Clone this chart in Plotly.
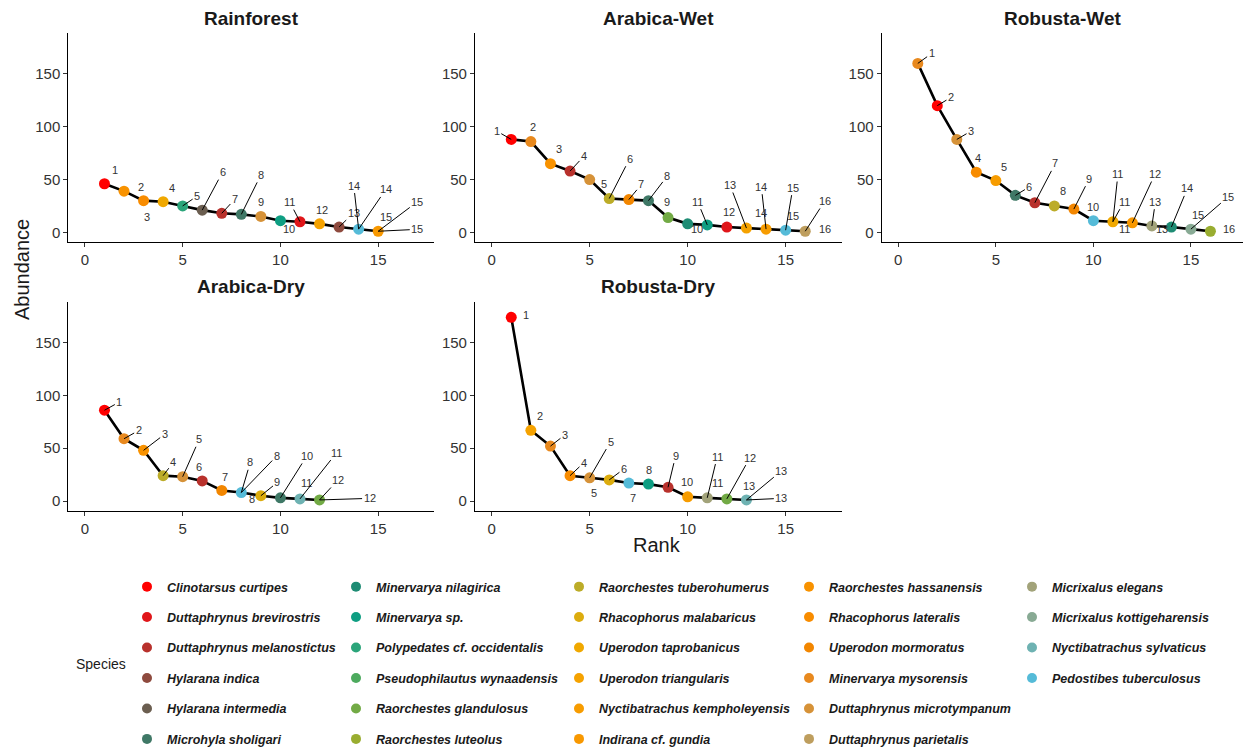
import plotly.graph_objects as go

W, H = 1243, 750
FONT = "Liberation Sans, Arial, sans-serif"

# ---------------- species (legend order, column-major) ----------------
species = [
    "Clinotarsus curtipes", "Duttaphrynus brevirostris", "Duttaphrynus melanostictus",
    "Hylarana indica", "Hylarana intermedia", "Microhyla sholigari",
    "Minervarya nilagirica", "Minervarya sp.", "Polypedates cf. occidentalis",
    "Pseudophilautus wynaadensis", "Raorchestes glandulosus", "Raorchestes luteolus",
    "Raorchestes tuberohumerus", "Rhacophorus malabaricus", "Uperodon taprobanicus",
    "Uperodon triangularis", "Nyctibatrachus kempholeyensis", "Indirana cf. gundia",
    "Raorchestes hassanensis", "Rhacophorus lateralis", "Uperodon mormoratus",
    "Minervarya mysorensis", "Duttaphrynus microtympanum", "Duttaphrynus parietalis",
    "Micrixalus elegans", "Micrixalus kottigeharensis", "Nyctibatrachus sylvaticus",
    "Pedostibes tuberculosus",
]
species_colors = [
    "#FF0000", "#E0161A", "#B8312C", "#8E4A3E", "#6B5E50", "#3F7866",
    "#1E8C74", "#0E9E82", "#2BA57A", "#4DAA5E", "#72AA45", "#99AD30",
    "#BCAC28", "#DCAC0E", "#F0A800", "#F5A200", "#F79C00", "#F89800",
    "#F89200", "#F88C00", "#F28600", "#E8891E", "#D69238", "#BE9E5E",
    "#A2A37A", "#88AA94", "#6EB2B2", "#55BBD8",
]
color_of = dict(zip(species, species_colors))

# ---------------- data per panel ----------------
rainforest_rank = list(range(1, 16))
rainforest_abund = [46, 39, 30, 29, 25, 21, 18, 17, 15, 11, 10, 8, 5, 3, 1]
rainforest_species = [
    "Clinotarsus curtipes", "Raorchestes hassanensis", "Rhacophorus lateralis",
    "Uperodon taprobanicus", "Polypedates cf. occidentalis", "Hylarana intermedia",
    "Duttaphrynus melanostictus", "Microhyla sholigari", "Duttaphrynus microtympanum",
    "Minervarya sp.", "Duttaphrynus brevirostris", "Uperodon triangularis",
    "Hylarana indica", "Pedostibes tuberculosus", "Indirana cf. gundia",
]

arabica_wet_rank = list(range(1, 17))
arabica_wet_abund = [88, 86, 65, 58, 50, 32, 31, 30, 14, 8, 7, 5, 4, 3, 2, 1]
arabica_wet_species = [
    "Clinotarsus curtipes", "Minervarya mysorensis", "Raorchestes hassanensis",
    "Duttaphrynus melanostictus", "Duttaphrynus microtympanum", "Raorchestes tuberohumerus",
    "Uperodon mormoratus", "Microhyla sholigari", "Raorchestes glandulosus",
    "Minervarya nilagirica", "Minervarya sp.", "Duttaphrynus brevirostris",
    "Uperodon triangularis", "Nyctibatrachus kempholeyensis", "Pedostibes tuberculosus",
    "Duttaphrynus parietalis",
]

robusta_wet_rank = list(range(1, 17))
robusta_wet_abund = [160, 120, 88, 57, 49, 35, 28, 25, 22, 11, 10, 9, 6, 5, 3, 1]
robusta_wet_species = [
    "Minervarya mysorensis", "Clinotarsus curtipes", "Duttaphrynus microtympanum",
    "Rhacophorus lateralis", "Nyctibatrachus kempholeyensis", "Microhyla sholigari",
    "Duttaphrynus melanostictus", "Raorchestes tuberohumerus", "Uperodon mormoratus",
    "Pedostibes tuberculosus", "Uperodon taprobanicus", "Indirana cf. gundia",
    "Micrixalus elegans", "Minervarya nilagirica", "Micrixalus kottigeharensis",
    "Raorchestes luteolus",
]

arabica_dry_rank = list(range(1, 13))
arabica_dry_abund = [86, 59, 48, 24, 23, 19, 10, 8, 5, 3, 2, 1]
arabica_dry_species = [
    "Clinotarsus curtipes", "Minervarya mysorensis", "Raorchestes hassanensis",
    "Raorchestes tuberohumerus", "Duttaphrynus microtympanum", "Duttaphrynus melanostictus",
    "Uperodon mormoratus", "Pedostibes tuberculosus", "Rhacophorus malabaricus",
    "Microhyla sholigari", "Nyctibatrachus sylvaticus", "Raorchestes glandulosus",
]

robusta_dry_rank = list(range(1, 14))
robusta_dry_abund = [174, 67, 52, 24, 22, 20, 17, 16, 13, 4, 3, 2, 1]
robusta_dry_species = [
    "Clinotarsus curtipes", "Uperodon triangularis", "Minervarya mysorensis",
    "Rhacophorus lateralis", "Duttaphrynus microtympanum", "Rhacophorus malabaricus",
    "Pedostibes tuberculosus", "Minervarya sp.", "Duttaphrynus melanostictus",
    "Nyctibatrachus kempholeyensis", "Micrixalus elegans", "Raorchestes glandulosus",
    "Nyctibatrachus sylvaticus",
]

# repel-style rank labels: (rank, label x, label y, draw segment)
rainforest_labels = [
    (1, 1.53, 59.4, 0), (2, 2.85, 43, 0), (3, 3.2, 14.8, 0), (4, 4.43, 42, 0),
    (5, 5.74, 34.3, 1), (6, 7.04, 57, 1), (7, 7.67, 31.4, 1), (8, 9.0, 54.4, 1),
    (9, 9.03, 28.3, 0), (10, 10.45, 2.8, 0), (11, 10.48, 28.6, 1), (12, 12.14, 21, 0),
    (13, 13.75, 18.5, 1), (14, 13.75, 44.3, 1), (14, 15.39, 40.6, 1), (15, 15.39, 14.8, 0),
    (15, 17.0, 28.9, 1), (15, 17.0, 2.8, 1),
]
arabica_wet_labels = [
    (1, 0.26, 95.9, 1), (2, 2.13, 100, 0), (3, 3.42, 78.5, 0), (4, 4.71, 72.2, 1),
    (5, 5.73, 45.7, 0), (6, 7.04, 69.7, 1), (7, 7.64, 45.4, 1), (8, 8.96, 53.3, 1),
    (9, 8.96, 28.4, 0), (10, 10.49, 2.8, 0), (11, 10.51, 29, 1), (12, 12.13, 18.9, 0),
    (13, 12.16, 44.8, 1), (14, 13.76, 43.2, 1), (14, 13.76, 18, 0), (15, 15.37, 42.3, 1),
    (15, 15.37, 15.5, 0), (16, 17.0, 29.7, 1), (16, 17.0, 3.5, 0),
]
robusta_wet_labels = [
    (1, 1.71, 169.4, 1), (2, 2.7, 127.8, 1), (3, 3.73, 95.9, 1), (4, 4.07, 70, 0),
    (5, 5.42, 62, 0), (6, 6.72, 43, 1), (7, 8.05, 65.3, 1), (8, 8.46, 39, 0),
    (9, 9.79, 50.8, 1), (10, 10.0, 24.3, 0), (11, 11.26, 55.2, 1), (11, 11.57, 29, 1),
    (11, 11.62, 2.8, 0), (12, 13.16, 55.2, 1), (13, 13.18, 29, 1), (13, 13.5, 2.8, 0),
    (14, 14.82, 41.6, 1), (15, 15.38, 16.4, 0), (15, 16.92, 33.8, 1), (16, 16.97, 2.8, 0),
]
arabica_dry_labels = [
    (1, 1.76, 93.7, 1), (2, 2.75, 66.8, 1), (3, 4.08, 63.3, 1), (4, 4.52, 36.7, 1),
    (5, 5.85, 58.5, 1), (6, 5.85, 32.6, 0), (7, 7.17, 23.1, 0), (8, 8.46, 36.7, 1),
    (8, 9.81, 42.7, 1), (8, 8.55, 1.9, 0), (9, 9.85, 17.7, 1), (10, 11.35, 42.7, 1),
    (11, 11.31, 16.8, 0), (11, 12.88, 45.9, 1), (12, 12.94, 19.9, 1), (12, 14.56, 2.5, 1),
]
robusta_dry_labels = [
    (1, 1.73, 176, 0), (2, 2.45, 81, 0), (3, 3.74, 62.7, 1), (4, 4.71, 36.4, 1),
    (5, 6.07, 56.3, 1), (5, 5.22, 7.9, 0), (6, 6.75, 30.4, 1), (7, 7.23, 3.2, 0),
    (8, 8.03, 29.4, 0), (9, 9.39, 43, 1), (10, 9.98, 17.7, 0), (11, 11.51, 42.1, 1),
    (11, 11.51, 16.8, 0), (12, 13.18, 41.1, 1), (13, 14.78, 28.5, 1), (13, 13.13, 14.2, 0),
    (13, 14.78, 2.5, 1),
]

panel_titles = ["Rainforest", "Arabica-Wet", "Robusta-Wet", "Arabica-Dry", "Robusta-Dry"]
x_ticks = [0, 5, 10, 15]
y_ticks = [0, 50, 100, 150]

panels = [
    (rainforest_rank, rainforest_abund, rainforest_species, rainforest_labels),
    (arabica_wet_rank, arabica_wet_abund, arabica_wet_species, arabica_wet_labels),
    (robusta_wet_rank, robusta_wet_abund, robusta_wet_species, robusta_wet_labels),
    (arabica_dry_rank, arabica_dry_abund, arabica_dry_species, arabica_dry_labels),
    (robusta_dry_rank, robusta_dry_abund, robusta_dry_species, robusta_dry_labels),
]

# ---------------- layout geometry (pixels) ----------------
col_px = [(68.3, 433.9), (475.0, 841.5), (881.7, 1243.0)]
x_ranges = [[-0.85, 17.85], [-0.85, 17.85], [-0.85, 17.67]]
row_px = [(32.8, 241.8), (301.5, 510.5)]
y_range = [-9, 189]
cells = [(0, 0), (0, 1), (0, 2), (1, 0), (1, 1)]

fig = go.Figure()
layout = dict(
    width=W, height=H,
    margin=dict(l=0, r=0, t=0, b=0, autoexpand=False),
    paper_bgcolor="white", plot_bgcolor="white",
    font=dict(family=FONT, color="#333333"),
    showlegend=True,
)
annotations = []

for i, ((rank, abund, sp, labels), (r, c)) in enumerate(zip(panels, cells)):
    k = "" if i == 0 else str(i + 1)
    xa, ya = "x" + k, "y" + k
    x0, x1 = col_px[c]
    y0, y1 = row_px[r]
    axis_common = dict(
        showline=True, linecolor="black", linewidth=1.1, mirror=False,
        showgrid=False, zeroline=False, ticks="outside", ticklen=4,
        tickcolor="#333333", tickwidth=1,
        tickfont=dict(family=FONT, size=15, color="#333333"),
        fixedrange=True, automargin=False,
    )
    layout["xaxis" + k] = dict(
        axis_common, domain=[x0 / W, x1 / W], range=x_ranges[c],
        tickvals=x_ticks, anchor=ya,
    )
    layout["yaxis" + k] = dict(
        axis_common, domain=[1 - y1 / H, 1 - y0 / H], range=y_range,
        tickvals=y_ticks, anchor=xa,
    )
    fig.add_trace(go.Scatter(
        x=rank, y=abund, mode="lines", xaxis=xa, yaxis=ya,
        line=dict(color="black", width=2.6), showlegend=False, hoverinfo="skip",
    ))
    fig.add_trace(go.Scatter(
        x=rank, y=abund, mode="markers", xaxis=xa, yaxis=ya,
        marker=dict(color=[color_of[s] for s in sp], size=11, line=dict(width=0)),
        text=sp, showlegend=False,
    ))
    # panel title
    annotations.append(dict(
        text="<b>" + panel_titles[i] + "</b>", xref="paper", yref="paper",
        x=(x0 + x1) / 2 / W, y=1 - (18 + (y0 - 32.8)) / H,
        showarrow=False, xanchor="center", yanchor="middle",
        font=dict(family=FONT, size=19, color="#1a1a1a"),
    ))
    # repel labels
    for (rk, lx, ly, seg) in labels:
        px, py = rank[rk - 1], abund[rk - 1]
        if seg:
            annotations.append(dict(
                text=str(rk), x=px, y=py, xref=xa, yref=ya,
                ax=lx, ay=ly, axref=xa, ayref=ya,
                showarrow=True, arrowhead=0, arrowwidth=1, arrowcolor="black",
                standoff=0, startstandoff=0,
                font=dict(family=FONT, size=11, color="#333333"),
            ))
        else:
            annotations.append(dict(
                text=str(rk), x=lx, y=ly, xref=xa, yref=ya, showarrow=False,
                xanchor="center", yanchor="middle",
                font=dict(family=FONT, size=11, color="#333333"),
            ))

# axis titles
annotations.append(dict(
    text="Abundance", xref="paper", yref="paper", x=22 / W, y=1 - 270 / H,
    xanchor="center", yanchor="middle",
    showarrow=False, textangle=-90, font=dict(family=FONT, size=20, color="#1a1a1a"),
))
annotations.append(dict(
    text="Rank", xref="paper", yref="paper", x=657 / W, y=1 - 545 / H,
    xanchor="center", yanchor="middle",
    showarrow=False, font=dict(family=FONT, size=20, color="#1a1a1a"),
))
annotations.append(dict(
    text="Species", xref="paper", yref="paper", x=101 / W, y=1 - 664 / H,
    xanchor="center", yanchor="middle",
    showarrow=False, font=dict(family=FONT, size=14, color="#1a1a1a"),
))

# ---------------- legend: 5 columns ----------------
legend_col_x = [147, 356, 579, 809, 1032]
legend_names = ["legend", "legend2", "legend3", "legend4", "legend5"]
for j, sp in enumerate(species):
    col = j // 6
    fig.add_trace(go.Scatter(
        x=[None], y=[None], mode="markers", name=sp,
        marker=dict(color=color_of[sp], size=10),
        legend=legend_names[col], legendgroup=sp, showlegend=True,
    ))
for col, ln in enumerate(legend_names):
    layout[ln] = dict(
        x=(legend_col_x[col] - 20) / W, y=1 - 572 / H,
        xref="paper", yref="paper", xanchor="left", yanchor="top",
        orientation="v", traceorder="grouped", tracegroupgap=11.2,
        bgcolor="rgba(0,0,0,0)", borderwidth=0, itemsizing="trace",
        font=dict(family=FONT, size=12.5, color="#1a1a1a", style="italic", weight="bold"),
    )

layout["annotations"] = annotations
fig.update_layout(**layout)
fig.write_html("out.html")
